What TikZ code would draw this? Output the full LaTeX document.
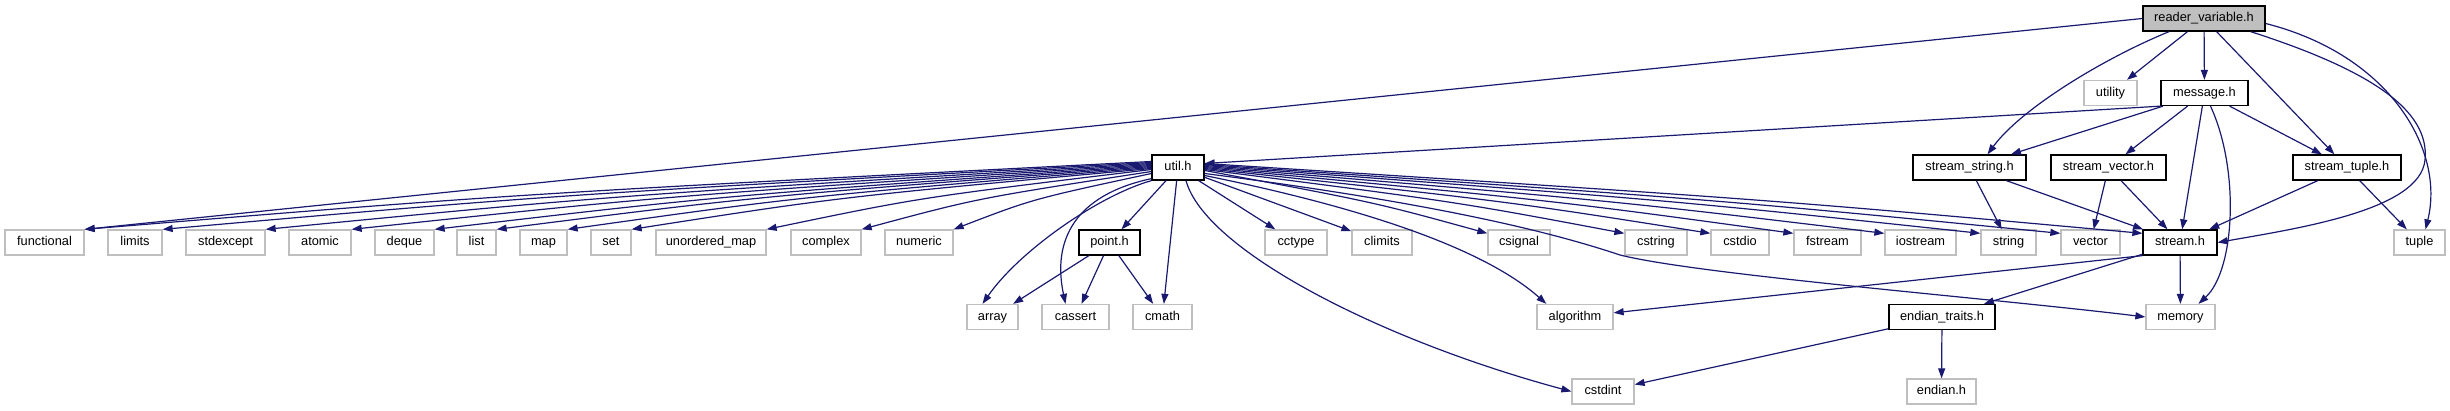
\documentclass[tikz,border=0pt]{standalone}
\usepackage{fontspec}
\setmainfont{Liberation Sans}
\usetikzlibrary{arrows.meta,calc}
\definecolor{mblue}{HTML}{191970}
\definecolor{gborder}{HTML}{BFBFBF}
\definecolor{gfill}{HTML}{BFBFBF}
\tikzset{
  nbase/.style={rectangle, inner sep=0pt, minimum height=25pt, text height=9.3pt, text depth=2.6pt,
    font=\fontsize{12.8pt}{14pt}\selectfont},
  gbox/.style={nbase, draw=gborder, line width=1.3pt},
  bbox/.style={nbase, draw=black, line width=1.3pt},
  wd/.style={minimum width=#1},
  dep/.style={draw=mblue, line width=1.2pt, -{Triangle[length=10pt,width=7pt]}}
}
\begin{document}
\begin{tikzpicture}[x=1pt,y=-1pt]
\useasboundingbox (0,0) rectangle (2450,411);
% row 1
\node[bbox, fill=gfill, wd=122pt] (rv) at (2204,18.5) {reader\_variable.h};
% row 2
\node[gbox, wd=53pt] (utility) at (2110.5,93) {utility};
\node[bbox, wd=87pt] (message) at (2204.5,93) {message.h};
% row 3
\node[bbox, wd=52pt] (util) at (1178,167.5) {util.h};
\node[bbox, wd=113pt] (sstring) at (1969.5,167.5) {stream\_string.h};
\node[bbox, wd=115pt] (svector) at (2108.5,167.5) {stream\_vector.h};
\node[bbox, wd=108pt] (stuple) at (2347,167.5) {stream\_tuple.h};
% row 4
\node[gbox, wd=79pt] (functional) at (44.5,242.5) {functional};
\node[gbox, wd=54pt] (limits) at (135,242.5) {limits};
\node[gbox, wd=79pt] (stdexcept) at (225.5,242.5) {stdexcept};
\node[gbox, wd=62pt] (atomic) at (320,242.5) {atomic};
\node[gbox, wd=59pt] (deque) at (404.5,242.5) {deque};
\node[gbox, wd=39pt] (list) at (476.5,242.5) {list};
\node[gbox, wd=47pt] (map) at (543.5,242.5) {map};
\node[gbox, wd=40pt] (set) at (611,242.5) {set};
\node[gbox, wd=110pt] (umap) at (711,242.5) {unordered\_map};
\node[gbox, wd=70pt] (complex) at (826,242.5) {complex};
\node[gbox, wd=68pt] (numeric) at (919,242.5) {numeric};
\node[bbox, wd=61pt] (point) at (1109.5,242.5) {point.h};
\node[gbox, wd=62pt] (cctype) at (1296,242.5) {cctype};
\node[gbox, wd=60pt] (climits) at (1382,242.5) {climits};
\node[gbox, wd=62pt] (csignal) at (1519,242.5) {csignal};
\node[gbox, wd=62pt] (cstring) at (1656,242.5) {cstring};
\node[gbox, wd=58pt] (cstdio) at (1740,242.5) {cstdio};
\node[gbox, wd=67pt] (fstream) at (1827.5,242.5) {fstream};
\node[gbox, wd=71pt] (iostream) at (1920.5,242.5) {iostream};
\node[gbox, wd=55pt] (string) at (2008.5,242.5) {string};
\node[gbox, wd=59pt] (vector) at (2090.5,242.5) {vector};
\node[bbox, wd=74pt] (stream) at (2180,242.5) {stream.h};
\node[gbox, wd=51pt] (tuple) at (2419.5,242.5) {tuple};
% row 5
\node[gbox, wd=51pt] (array) at (992.5,317) {array};
\node[gbox, wd=67pt] (cassert) at (1075.5,317) {cassert};
\node[gbox, wd=59pt] (cmath) at (1162.5,317) {cmath};
\node[gbox, wd=76pt] (algorithm) at (1575,317) {algorithm};
\node[bbox, wd=106pt] (etraits) at (1942,317) {endian\_traits.h};
\node[gbox, wd=69pt] (memory) at (2180.5,317) {memory};
% row 6
\node[gbox, wd=62pt] (cstdint) at (1603,391.5) {cstdint};
\node[gbox, wd=69pt] (endianh) at (1941.5,391.5) {endian.h};

% reader_variable.h
\draw[dep] (rv.west) -- (functional.north east);
\draw[dep] (rv) -- (utility);
\draw[dep] (rv) -- (message);
\draw[dep] ($(rv.south)+(-35,0)$) .. controls (2100,60) and (2020,110) .. ($(sstring.north)+(18,0)$);
\draw[dep] (rv) -- (stuple);
\draw[dep] ($(rv.south east)+(-15,0)$) .. controls (2370,70) and (2430,110) .. (2425,160) .. controls (2420,210) and (2300,228) .. (stream.east);
\draw[dep] ($(rv.east)+(0,5)$) .. controls (2390,55) and (2445,150) .. ($(tuple.north)+(6,0)$);
% message.h
\draw[dep] (message.south west) -- ($(util.east)+(0,-4)$);
\draw[dep] (message) -- (sstring);
\draw[dep] (message) -- (svector);
\draw[dep] (message) -- (stuple);
\draw[dep] (message) -- (stream);
\draw[dep] ($(message.south)+(6,0)$) .. controls (2240,170) and (2235,270) .. ($(memory.north)+(18,0)$);
% stream_*.h
\draw[dep] (sstring) -- (string);
\draw[dep] (sstring) -- (stream);
\draw[dep] (svector) -- (vector);
\draw[dep] (svector) -- (stream);
\draw[dep] (stuple) -- (stream);
\draw[dep] (stuple) -- (tuple);
% stream.h
\draw[dep] (stream.south west) -- (algorithm);
\draw[dep] (stream) -- (etraits);
\draw[dep] (stream) -- (memory);
% endian_traits.h
\draw[dep] (etraits) -- (cstdint);
\draw[dep] (etraits) -- (endianh);
% point.h
\draw[dep] (point) -- (array);
\draw[dep] (point) -- (cassert);
\draw[dep] (point) -- (cmath);
% util.h to the left
\foreach \t/\dy in {functional/-6,limits/-5,stdexcept/-4,atomic/-3,deque/-2,list/-1,map/0,set/1,umap/2,complex/4,numeric/6} {
  \draw[dep] ($(util.west)+(0,\dy)$) .. controls ($($(util.west)+(0,\dy)$)!0.6!(\t.north east)+(0,-8)$) .. (\t.north east);
}
% util.h downwards
\draw[dep] (util) -- (point);
\draw[dep] (util) -- (cmath);
\draw[dep] (util.south west) .. controls (1100,195) and (1020,250) .. ($(array.north)+(-10,0)$);
\draw[dep] ($(util.south west)+(0,-2)$) .. controls (1075,195) and (1052,240) .. ($(cassert.north)+(-10,0)$);
\draw[dep] ($(util.south)+(8,0)$) .. controls (1205,250) and (1380,340) .. (cstdint.west);
% util.h to the right
\draw[dep] (util) -- (cctype);
\draw[dep] (util) -- (climits);
\foreach \t/\dy in {csignal/3,cstring/2,cstdio/1,fstream/0,iostream/-1,string/-2,vector/-3,stream/-4} {
  \draw[dep] ($(util.east)+(0,\dy)$) .. controls ($($(util.east)+(0,\dy)$)!0.6!($(\t.north west)+(0,4)$)+(0,-6)$) .. ($(\t.north west)+(0,4)$);
}
\draw[dep] ($(util.east)+(0,8)$) .. controls (1350,205) and (1480,245) .. ($(algorithm.north west)+(10,0)$);
\draw[dep] ($(util.east)+(0,6)$) .. controls (1450,205) and (1560,235) .. (1620,255) .. controls (1700,275) and (1990,298) .. (memory.west);
\end{tikzpicture}
\end{document}
